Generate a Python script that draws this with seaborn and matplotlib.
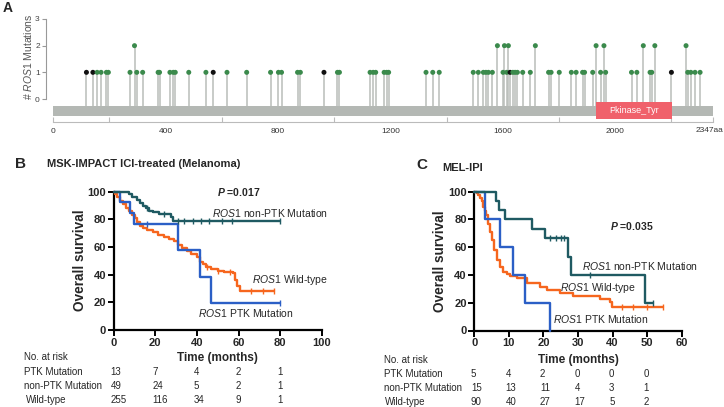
import numpy as np
import matplotlib
matplotlib.use('Agg')
import matplotlib.pyplot as plt
import matplotlib.transforms as mtransforms
from matplotlib.patches import Rectangle
import seaborn as sns

sns.set_style('ticks')
plt.rcParams['font.family'] = ['Liberation Sans', 'DejaVu Sans']
plt.rcParams['mathtext.fontset'] = 'custom'
plt.rcParams['mathtext.rm'] = 'Liberation Sans'
plt.rcParams['mathtext.it'] = 'Liberation Sans:italic'
plt.rcParams['mathtext.sf'] = 'Liberation Sans:italic:bold'

# ---- panel A: ROS1 lollipop data ----
protein_len = 2347
kinase_start, kinase_end = 1932, 2202
mut_pos = [119, 142, 157, 171, 190, 197, 274, 290, 298, 319, 374, 379, 416, 428, 435,
           483, 544, 570, 619, 689, 774, 802, 813, 870, 880, 964, 1012, 1019, 1128,
           1139, 1148, 1178, 1187, 1194, 1327, 1351, 1374, 1495, 1513, 1531, 1540,
           1549, 1563, 1581, 1601, 1606, 1614, 1620, 1626, 1636, 1644, 1652, 1671,
           1698, 1716, 1763, 1772, 1801, 1844, 1861, 1884, 1891, 1920, 1932, 1948,
           1960, 1966, 2058, 2077, 2100, 2124, 2130, 2141, 2200, 2252, 2258, 2269,
           2284, 2302]
mut_count = [1, 1, 1, 1, 1, 1, 1, 2, 1, 1, 1, 1, 1, 1, 1,
             1, 1, 1, 1, 1, 1, 1, 1, 1, 1, 1, 1, 1, 1,
             1, 1, 1, 1, 1, 1, 1, 1, 1, 1, 1, 1,
             1, 1, 2, 1, 2, 1, 2, 1, 1, 1, 1, 1,
             1, 2, 1, 1, 1, 1, 1, 1, 1, 1, 2, 1,
             2, 1, 1, 1, 2, 1, 1, 2, 1, 2, 1, 1,
             1, 1]
truncating = [119, 142, 570, 964, 1626, 2200]
mut_type = ['truncating' if p in truncating else 'missense' for p in mut_pos]

# ---- panel B: MSK-IMPACT KM curves ----
b_non_t = [0, 7.5, 9, 11, 12.5, 14, 15.5, 17, 19, 22, 27.5, 28.5, 80]
b_non_s = [100, 98, 96, 94, 92, 90, 88, 86, 85, 84, 81.5, 79, 79]
b_wt_t = [0, 0.6, 1.5, 3, 4.5, 6, 7.5, 9, 10, 11, 12.5, 14, 16, 19, 21.5, 24, 26.5, 29,
          31, 33, 35, 37, 40, 41.5, 43, 44.5, 47, 50, 53, 57.5, 58.5, 59.5, 60.5, 77]
b_wt_s = [100, 98.5, 96, 93, 91, 88.5, 86, 83.5, 81, 78, 75.5, 73.5, 72, 71, 69, 67.5, 66, 64,
          61.5, 59.5, 57, 55, 53, 49.5, 47.5, 45.5, 44, 43, 42, 41, 36, 32, 28.5, 28.5]
b_ptk_t = [0, 3, 7.9, 9.9, 31, 41.5, 46.8, 80]
b_ptk_s = [100, 92.3, 84.6, 76.9, 57.7, 38.5, 19.2, 19.2]
b_non_cens = [16, 24, 31, 34, 38, 42, 46, 52, 57, 80]
b_wt_cens = [45, 50, 56, 66, 72, 77]
b_ptk_cens = [15.9, 80]
b_times = [0, 20, 40, 60, 80]
b_risk_ptk = [13, 7, 4, 2, 1]
b_risk_non = [49, 24, 5, 2, 1]
b_risk_wt = [255, 116, 34, 9, 1]

# ---- panel C: MEL-IPI KM curves ----
c_non_t = [0, 6.4, 7.1, 8.9, 16.6, 20.5, 27.2, 28.1, 49.4, 51.8]
c_non_s = [100, 93.3, 86.7, 80, 73.3, 66.7, 53.3, 40, 20, 20]
c_wt_t = [0, 0.8, 1.2, 1.7, 2.1, 2.6, 3.0, 3.4, 3.9, 4.5, 5.0, 5.8, 6.5, 7.4, 8.4, 9.4,
          10.3, 12.3, 15.2, 19, 20.9, 24.8, 28.6, 36.4, 39.3, 39.7, 54.7]
c_wt_s = [100, 98.9, 97.8, 95.5, 93.3, 89, 86, 83, 77, 71, 65, 58, 51, 46, 42.5, 41,
          39, 37.5, 34, 31.5, 29, 27, 25, 23, 20.5, 17, 17]
c_ptk_t = [0, 3.1, 7.4, 11.3, 14.7, 21.9]
c_ptk_s = [100, 80, 60, 40, 20, 0]
c_non_cens = [22, 23.5, 25, 26, 33.5, 51.8]
c_wt_cens = [42.6, 45.9, 49.9, 54.7]
c_times = [0, 10, 20, 30, 40, 50]
c_risk_ptk = [5, 4, 2, 0, 0, 0]
c_risk_non = [15, 13, 11, 4, 3, 1]
c_risk_wt = [90, 40, 27, 17, 5, 2]

TEAL, ORANGE, BLUE = '#1f5a62', '#f6661e', '#2b5fc6'

W, H = 724, 407
fig = plt.figure(figsize=(W / 100, H / 100), dpi=100)


def fx(px):
    return px / W


def fy(py):
    return 1 - py / H


# ================= Panel A =================
axA = fig.add_axes([fx(40), fy(125), 676 / W, 110 / H])
axA.set_xlim(-46.2, 2358.6)
axA.set_ylim(-0.975, 3.15)
axA.add_patch(Rectangle((0, -0.637), protein_len, 0.375, color='#b4b8b4', lw=0, zorder=1))
axA.vlines(mut_pos, -0.262, mut_count, color='#b9bdb9', lw=1.1, zorder=2)
sns.scatterplot(x=mut_pos, y=mut_count, hue=mut_type,
                palette={'missense': '#3b8a4c', 'truncating': '#111111'},
                s=13, linewidth=0, legend=False, zorder=3, ax=axA)
axA.add_patch(Rectangle((kinase_start, -0.75), kinase_end - kinase_start, 0.638,
                        color='#f0616b', lw=0, zorder=4))
axA.text((kinase_start + kinase_end) / 2, -0.43, 'Pkinase_Tyr', color='white',
         fontsize=6.5, ha='center', va='center', zorder=5)
for s in ['top', 'right']:
    axA.spines[s].set_visible(False)
axA.spines['left'].set_position(('data', -24.9))
axA.spines['left'].set_bounds(0, 3)
axA.spines['left'].set_color('#999999')
axA.spines['left'].set_linewidth(0.8)
axA.spines['bottom'].set_position(('data', -0.862))
axA.spines['bottom'].set_bounds(0, protein_len)
axA.spines['bottom'].set_color('#bbbbbb')
axA.spines['bottom'].set_linewidth(0.8)
axA.set_yticks([0, 1, 2, 3])
axA.tick_params(axis='y', length=3, width=0.8, color='#999999', labelsize=6,
                labelcolor='#444444', pad=1.5)
axA.set_xticks([0, 400, 800, 1200, 1600, 2000, protein_len])
axA.set_xticklabels(['0', '400', '800', '1200', '1600', '2000', ''])
axA.xaxis.remove_overlapping_locs = False
axA.set_xticks([0, 200, 600, 1000, 1400, 1800, 2200, protein_len], minor=True)
axA.tick_params(axis='x', which='major', length=0, labelsize=6, labelcolor='#333333', pad=4)
axA.tick_params(axis='x', which='minor', direction='in', length=3.5, width=0.8,
                color='#bbbbbb')
axA.set_ylabel('')
fig.text(fx(723), fy(131), '2347aa', fontsize=6, color='#333333', ha='right', va='center')
fig.text(fx(28), fy(57), r'# $\it{ROS1}$ Mutations', rotation=90, fontsize=7.5,
         color='#555555', ha='center', va='center')
fig.text(fx(8), fy(8), 'A', fontsize=10, fontweight='bold', ha='center', va='center')


def step_at(ts, ss, t):
    idx = np.searchsorted(ts, t, side='right') - 1
    return np.array(ss)[idx]


def km_panel(ax, curves, xmax, xstep):
    for ts, ss, cens, col in curves:
        sns.lineplot(x=ts, y=ss, drawstyle='steps-post', color=col, lw=1.7,
                     estimator=None, sort=False, ax=ax, clip_on=False, zorder=3)
        if cens:
            ax.plot(cens, step_at(ts, ss, cens), ls='none', marker='|', ms=4, mew=1,
                    color=col, clip_on=False, zorder=3)
    ax.set_xlim(0, xmax)
    ax.set_ylim(0, 100)
    ax.set_xticks(np.arange(0, xmax + 1, xstep))
    ax.set_yticks(np.arange(0, 101, 20))
    for s in ['top', 'right']:
        ax.spines[s].set_visible(False)
    for s in ['left', 'bottom']:
        ax.spines[s].set_linewidth(1.6)
        ax.spines[s].set_color('black')
    ax.tick_params(length=4, width=1.4, labelsize=8, pad=1.5, color='black')
    for lbl in ax.get_xticklabels() + ax.get_yticklabels():
        lbl.set_fontweight('bold')
    ax.set_xlabel('')
    ax.set_ylabel('')


def risk_table(ax, times, rows, x_names, ys, dx):
    tr = mtransforms.blended_transform_factory(ax.transData, fig.transFigure)
    fig.text(fx(x_names[0]), fy(ys[0]), 'No. at risk', fontsize=7, ha='left', va='center')
    for (name, vals), xn, yy in zip(rows, x_names[1:], ys[1:]):
        fig.text(fx(xn), fy(yy), name, fontsize=7, ha='left', va='center')
        for t, v in zip(times, vals):
            ax.text(t - dx, fy(yy), str(v), transform=tr, fontsize=7, ha='left',
                    va='center', clip_on=False)


# ================= Panel B =================
axB = fig.add_axes([fx(113.7), fy(330), (321.7 - 113.7) / W, (330 - 191.7) / H])
km_panel(axB, [(b_wt_t, b_wt_s, b_wt_cens, ORANGE),
               (b_ptk_t, b_ptk_s, b_ptk_cens, BLUE),
               (b_non_t, b_non_s, b_non_cens, TEAL)], 100, 20)
axB.text(49.5, 100, r'$\mathsf{P}$ =0.017', fontsize=7.5, fontweight='bold', va='center')
axB.text(47.3, 84.8, r'$\it{ROS1}$ non-PTK Mutation', fontsize=7.5, va='center')
axB.text(66.6, 36.2, r'$\it{ROS1}$ Wild-type', fontsize=7.5, va='center')
axB.text(40.7, 12.1, r'$\it{ROS1}$ PTK Mutation', fontsize=7.5, va='center')
fig.text(fx(217.7), fy(358.3), 'Time (months)', fontsize=8.5, fontweight='bold',
         ha='center', va='center')
fig.text(fx(80), fy(260.5), 'Overall survival', rotation=90, fontsize=9.8,
         fontweight='bold', ha='center', va='center')
fig.text(fx(21), fy(164.5), 'B', fontsize=11, fontweight='bold', ha='center', va='center')
fig.text(fx(46.7), fy(164), 'MSK-IMPACT ICI-treated (Melanoma)', fontsize=8,
         fontweight='bold', ha='left', va='center')
risk_table(axB, b_times,
           [('PTK Mutation', b_risk_ptk), ('non-PTK Mutation', b_risk_non),
            ('Wild-type', b_risk_wt)],
           [24, 24, 24, 26], [357, 371.7, 386, 400], 1.5)

# ================= Panel C =================
axC = fig.add_axes([fx(474.3), fy(330.5), (681.7 - 474.3) / W, (330.5 - 191.7) / H])
km_panel(axC, [(c_wt_t, c_wt_s, c_wt_cens, ORANGE),
               (c_ptk_t, c_ptk_s, None, BLUE),
               (c_non_t, c_non_s, c_non_cens, TEAL)], 60, 10)
axC.text(39.3, 75.5, r'$\mathsf{P}$ =0.035', fontsize=7.5, fontweight='bold', va='center')
axC.text(31.1, 46.5, r'$\it{ROS1}$ non-PTK Mutation', fontsize=7.5, va='center')
axC.text(24.8, 30.4, r'$\it{ROS1}$ Wild-type', fontsize=7.5, va='center')
axC.text(22.7, 8.1, r'$\it{ROS1}$ PTK Mutation', fontsize=7.5, va='center')
fig.text(fx(578), fy(360), 'Time (months)', fontsize=8.5, fontweight='bold',
         ha='center', va='center')
fig.text(fx(440), fy(261), 'Overall survival', rotation=90, fontsize=9.8,
         fontweight='bold', ha='center', va='center')
fig.text(fx(421.7), fy(165), 'C', fontsize=11, fontweight='bold', ha='center', va='center')
fig.text(fx(442.7), fy(167.7), 'MEL-IPI', fontsize=8, fontweight='bold',
         ha='left', va='center')
risk_table(axC, c_times,
           [('PTK Mutation', c_risk_ptk), ('non-PTK Mutation', c_risk_non),
            ('Wild-type', c_risk_wt)],
           [384, 384, 384, 385], [360, 374, 388.3, 401.7], 1.0)

fig.savefig('out.png', dpi=100)
